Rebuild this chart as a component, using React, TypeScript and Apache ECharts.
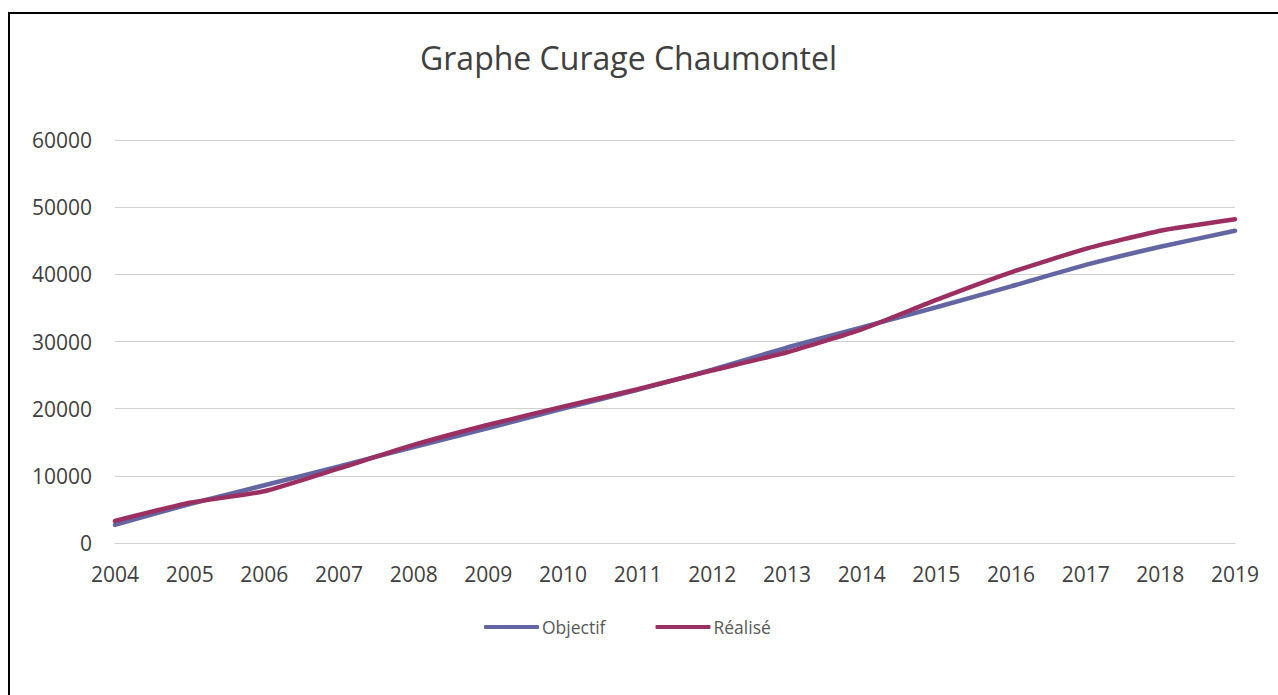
import React, { useEffect, useRef } from "react";
import * as echarts from "echarts";

const years = ["2004","2005","2006","2007","2008","2009","2010","2011","2012","2013","2014","2015","2016","2017","2018","2019"];
const objectif = [2700, 5800, 8600, 11400, 14300, 17100, 20000, 22800, 25800, 29100, 32100, 35100, 38200, 41400, 44100, 46500];
const realise = [3300, 6000, 7700, 11100, 14600, 17600, 20300, 22900, 25700, 28400, 31800, 36200, 40300, 43800, 46500, 48200];
const yTicks = [0, 10000, 20000, 30000, 40000, 50000, 60000];

const BLUE = "#6366a3";
const RED = "#9c2f62";
const FONT = "'Open Sans', 'Noto Sans', sans-serif";

export default function App() {
  const ref = useRef<HTMLDivElement>(null);
  useEffect(() => {
    if (!ref.current) return;
    const chart = echarts.init(ref.current, undefined, { renderer: "svg" });
    chart.setOption({
      animation: false,
      backgroundColor: "#ffffff",
      title: {
        text: "Graphe Curage Chaumontel",
        left: 415,
        top: 36,
        textStyle: { fontFamily: FONT, fontSize: 32, fontWeight: "normal", color: "#404040" },
      },
      legend: {
        top: 613,
        left: 479,
        itemGap: 50,
        itemWidth: 55,
        itemHeight: 4,
        icon: "roundRect",
        textStyle: { fontFamily: FONT, fontSize: 17.5, color: "#595959", padding: [0, 0, 0, -2] },
        data: ["Objectif", "Réalisé"],
      },
      graphic: [
        {
          type: "rect",
          shape: { x: 9, y: 13, width: 1300, height: 720 },
          style: { fill: "none", stroke: "#000000", lineWidth: 2 },
          silent: true,
        },
      ],
      grid: { left: 115, right: 43, top: 140, bottom: 152, containLabel: false },
      xAxis: {
        type: "category",
        data: years,
        boundaryGap: false,
        axisLine: { show: true, lineStyle: { color: "#d0d0d0", width: 1 } },
        axisTick: { show: false },
        axisLabel: { fontFamily: FONT, fontSize: 21, color: "#404040", margin: 20 },
      },
      yAxis: {
        type: "value",
        min: yTicks[0],
        max: yTicks[yTicks.length - 1],
        interval: 10000,
        axisLine: { show: false },
        axisTick: { show: false },
        splitLine: { lineStyle: { color: "#d0d0d0", width: 1 } },
        axisLabel: {
          fontFamily: FONT,
          fontSize: 21,
          color: "#404040",
          margin: 23,
          formatter: (v: number) => String(v),
        },
      },
      series: [
        {
          name: "Objectif",
          type: "line",
          data: objectif,
          showSymbol: false,
          symbol: "none",
          smooth: 0.15,
          lineStyle: { color: BLUE, width: 4.5, cap: "round" },
          itemStyle: { color: BLUE },
        },
        {
          name: "Réalisé",
          type: "line",
          data: realise,
          showSymbol: false,
          symbol: "none",
          smooth: 0.15,
          lineStyle: { color: RED, width: 4.5, cap: "round" },
          itemStyle: { color: RED },
        },
      ],
    });
    return () => chart.dispose();
  }, []);
  return (
    <div style={{ position: "fixed", left: 0, top: 0, width: 1278, height: 695, background: "#fff" }}>
      <div ref={ref} style={{ width: 1278, height: 695 }} />
    </div>
  );
}
